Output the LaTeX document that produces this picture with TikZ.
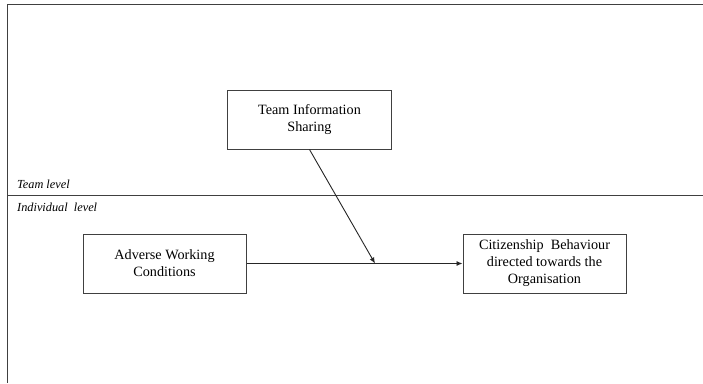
\documentclass[tikz,border=0pt]{standalone}
\usepackage{fontspec}
\setmainfont{Liberation Serif}
\usetikzlibrary{arrows.meta}
\begin{document}
\begin{tikzpicture}[x=1pt,y=-1pt,line cap=butt]
\tikzset{box/.style={draw=black!75,line width=1pt,minimum width=164pt,minimum height=59pt,
  align=center,font=\fontsize{14.2}{17}\selectfont,inner sep=0pt},
  lvl/.style={anchor=west,inner sep=0pt,font=\fontsize{12.3}{14}\selectfont\itshape},
  frame/.style={draw=black!75,line width=1pt},
  link/.style={draw=black!85,line width=0.9pt,-{Latex[length=6pt,width=5pt]}}}
\useasboundingbox (0,0) rectangle (703,383);
% The frame
\draw[frame] (703,4.5) -- (7.5,4.5) -- (7.5,383);
\draw[frame] (7.5,195) -- (703,195);
\node[lvl] (team) at (17,184) {Team level};
\node[lvl] (indiv) at (17,207) {Individual\ \ level};
%%%
\node[box] (tis) at (309.5,119.5) {Team Information\\Sharing};
\node[box,minimum width=163pt] (awc) at (164.5,263.5) {Adverse Working\\Conditions};
\node[box,minimum width=163pt] (cbo) at (544.5,263.5) {Citizenship\ \ Behaviour\\directed towards the\\Organisation};
\coordinate (mod) at (375,263.5);
%%%
\draw[link] (awc.east) -- (cbo.west);
\draw[link] (tis.south) -- (mod);
\end{tikzpicture}
\end{document}
